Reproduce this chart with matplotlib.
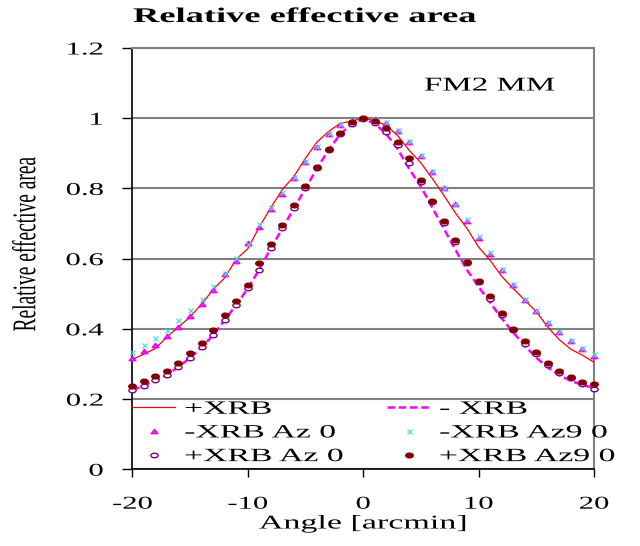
import matplotlib
matplotlib.use("Agg")
import matplotlib.pyplot as plt
from matplotlib.path import Path
from matplotlib.transforms import Affine2D
from matplotlib.patheffects import AbstractPathEffect

# angle grid [arcmin]
angle = list(range(-20, 21))

plus_xrb = [0.313, 0.328, 0.344, 0.377, 0.405, 0.434, 0.470, 0.512, 0.545, 0.598,
            0.628, 0.690, 0.745, 0.797, 0.834, 0.886, 0.932, 0.962, 0.985, 0.992,
            1.000,
            0.993, 0.980, 0.950, 0.908, 0.873, 0.828, 0.780, 0.730, 0.686, 0.633,
            0.595, 0.550, 0.515, 0.482, 0.449, 0.405, 0.369, 0.342, 0.325, 0.305]
minus_xrb = [0.225, 0.238, 0.254, 0.268, 0.292, 0.317, 0.347, 0.382, 0.425, 0.468,
             0.515, 0.569, 0.629, 0.686, 0.743, 0.800, 0.857, 0.909, 0.954, 0.983,
             0.998,
             0.985, 0.955, 0.912, 0.855, 0.805, 0.745, 0.685, 0.625, 0.568, 0.520,
             0.475, 0.430, 0.390, 0.352, 0.318, 0.290, 0.268, 0.252, 0.240, 0.232]
minus_az0 = [0.316, 0.337, 0.355, 0.379, 0.406, 0.436, 0.472, 0.510, 0.556, 0.593,
             0.645, 0.691, 0.740, 0.784, 0.830, 0.876, 0.919, 0.955, 0.981, 0.993,
             1.000,
             0.998, 0.987, 0.964, 0.932, 0.893, 0.848, 0.800, 0.755, 0.708, 0.660,
             0.612, 0.567, 0.525, 0.482, 0.450, 0.417, 0.390, 0.366, 0.343, 0.324]
minus_az90 = [0.334, 0.353, 0.373, 0.396, 0.425, 0.455, 0.484, 0.522, 0.558, 0.601,
              0.641, 0.700, 0.748, 0.790, 0.833, 0.878, 0.921, 0.957, 0.983, 0.995,
              1.000,
              0.997, 0.988, 0.966, 0.934, 0.895, 0.850, 0.802, 0.757, 0.712, 0.665,
              0.619, 0.570, 0.528, 0.486, 0.453, 0.420, 0.393, 0.369, 0.346, 0.328]
plus_az0 = [0.225, 0.238, 0.254, 0.268, 0.292, 0.317, 0.347, 0.382, 0.425, 0.468,
            0.515, 0.569, 0.629, 0.686, 0.743, 0.800, 0.857, 0.909, 0.954, 0.983,
            0.997,
            0.985, 0.961, 0.923, 0.872, 0.819, 0.762, 0.702, 0.648, 0.589, 0.534,
            0.484, 0.439, 0.396, 0.358, 0.327, 0.298, 0.273, 0.259, 0.244, 0.230]
plus_az90 = [0.237, 0.252, 0.265, 0.280, 0.303, 0.332, 0.360, 0.398, 0.439, 0.479,
             0.526, 0.588, 0.641, 0.696, 0.752, 0.807, 0.862, 0.911, 0.957, 0.988,
             1.000,
             0.992, 0.971, 0.931, 0.886, 0.824, 0.765, 0.708, 0.653, 0.591, 0.537,
             0.493, 0.444, 0.401, 0.366, 0.333, 0.303, 0.280, 0.263, 0.249, 0.244]

xticks = [-20, -10, 0, 10, 20]
xtick_labels = ["-20", "-10", "0", "10", "20"]
yticks = [0, 0.2, 0.4, 0.6, 0.8, 1.0, 1.2]
ytick_labels = ["0", "0.2", "0.4", "0.6", "0.8", "1", "1.2"]

FONT = "Liberation Serif"
SX = 1.7  # the reference text is horizontally stretched


class Stretch(AbstractPathEffect):
    # widen glyphs horizontally around left / centre / right of the ink
    def __init__(self, sx=SX, anchor="center"):
        super().__init__()
        self.sx = sx
        self.anchor = anchor

    def draw_path(self, renderer, gc, tpath, affine, rgbFace=None):
        bb = tpath.get_extents(affine)
        if self.anchor == "left":
            x0 = bb.x0
        elif self.anchor == "right":
            x0 = bb.x1
        else:
            x0 = (bb.x0 + bb.x1) / 2
        t = affine + Affine2D().translate(-x0, 0).scale(self.sx, 1).translate(x0, 0)
        renderer.draw_path(gc, tpath, t, rgbFace)


# flattened marker shapes (the picture is stretched sideways)
ellipse = Affine2D().scale(1.6, 1).transform_path(Path.unit_circle())
tri = Path([(-1, -0.65), (1, -0.65), (0, 0.65), (-1, -0.65)],
           [Path.MOVETO, Path.LINETO, Path.LINETO, Path.CLOSEPOLY])

fig = plt.figure(figsize=(6.4, 5.46), dpi=100)
ax = fig.add_axes([0.2067, 0.1405, 0.7214, 0.7716])

ax.grid(axis="y", color="#808080", lw=1.5, zorder=0)
ax.set_axisbelow(True)

l1, = ax.plot(angle, plus_xrb, color="#FF0000", lw=0.9, label="+XRB", zorder=3)
l2, = ax.plot(angle, minus_xrb, color="#FF00FF", lw=1.8, dashes=(3, 1.5),
              label="- XRB", zorder=3)
m1, = ax.plot(angle, minus_az0, ls="none", marker=tri, ms=4.8, color="#FF22FF",
              mec="#EE00EE", label="-XRB Az 0", zorder=4, clip_on=False)
m2, = ax.plot(angle, minus_az90, ls="none", marker="x", ms=3.6, mew=0.9,
              color="#44DDDD", label="-XRB Az9 0", zorder=5, clip_on=False)
m3, = ax.plot(angle, plus_az0, ls="none", marker=ellipse, ms=5.2, mfc="white",
              mec="#800080", mew=1.0, label="+XRB Az 0", zorder=4, clip_on=False)
m4, = ax.plot(angle, plus_az90, ls="none", marker=ellipse, ms=5.4, color="#800000",
              label="+XRB Az9 0", zorder=5, clip_on=False)

ax.set_xlim(-20, 20)
ax.set_ylim(0, 1.2)
ax.set_xticks(xticks)
ax.set_xticklabels(xtick_labels, fontfamily=FONT, fontsize=13)
ax.set_yticks(yticks)
ax.set_yticklabels(ytick_labels, fontfamily=FONT, fontsize=13)
ax.tick_params(axis="y", direction="out", length=7, width=1, pad=14)
ax.tick_params(axis="x", direction="out", length=6, width=1, pad=13)
for t in ax.get_xticklabels():
    t.set_path_effects([Stretch()])
for t in ax.get_yticklabels():
    t.set_path_effects([Stretch(anchor="right")])

for s in ["top", "right"]:
    ax.spines[s].set_color("#808080")
    ax.spines[s].set_linewidth(1.5)
for s in ["left", "bottom"]:
    ax.spines[s].set_color("black")
    ax.spines[s].set_linewidth(1.2)

leg_kw = dict(loc="upper left", frameon=False, numpoints=1, borderpad=0,
              borderaxespad=0, handlelength=2.3, handletextpad=0.5,
              labelspacing=0.35, prop={"family": FONT, "size": 13.5})
leg1 = ax.legend([l1, m1, m3], ["+XRB", "-XRB Az 0", "+XRB Az 0"],
                 bbox_to_anchor=(0.0, 0.163), **leg_kw)
ax.add_artist(leg1)
leg2 = ax.legend([l2, m2, m4], ["- XRB", "-XRB Az9 0", "+XRB Az9 0"],
                 bbox_to_anchor=(0.552, 0.163), **leg_kw)
for lg in (leg1, leg2):
    for t in lg.get_texts():
        t.set_path_effects([Stretch(sx=1.8, anchor="left")])

fig.text(305 / 640, 1 - 17 / 546, "Relative effective area", ha="center",
         va="center", fontfamily=FONT, fontsize=15, fontweight="bold",
         path_effects=[Stretch(sx=1.75)])
fig.text(490 / 640, 1 - 86 / 546, "FM2 MM", ha="center", va="center",
         fontfamily=FONT, fontsize=14, path_effects=[Stretch()])
fig.text(26 / 640, 1 - 244 / 546, "Relative effective area", rotation=90,
         ha="center", va="center", fontfamily=FONT, fontsize=14,
         path_effects=[Stretch()])
fig.text(363 / 640, 1 - 524 / 546, "Angle [arcmin]", ha="center", va="center",
         fontfamily=FONT, fontsize=14, path_effects=[Stretch(sx=1.75)])

fig.savefig("out.png", dpi=100)
plt.close()
